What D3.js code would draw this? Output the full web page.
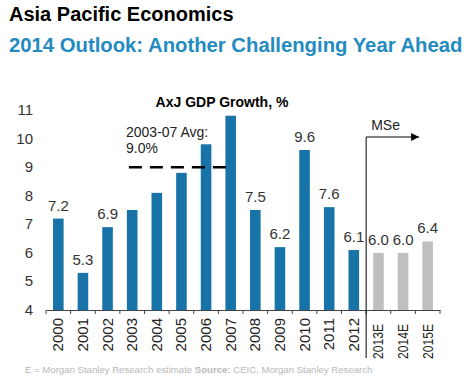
<!DOCTYPE html>
<html><head><meta charset="utf-8">
<script src="https://cdn.jsdelivr.net/npm/d3@7"></script>
<style>body{margin:0;background:#fff}svg{display:block;font-family:"Liberation Sans",Arial,sans-serif}</style>
</head><body>
<svg id="c" width="467" height="379"></svg>
<script>
const categories = ["2000","2001","2002","2003","2004","2005","2006","2007","2008","2009","2010","2011","2012","2013E","2014E","2015E"];
const values = [7.2,5.3,6.9,7.5,8.1,8.8,9.8,10.8,7.5,6.2,9.6,7.6,6.1,6.0,6.0,6.4];
const showLabel = [true,true,true,false,false,false,false,false,true,true,true,true,true,true,true,true];
const estimate = [false,false,false,false,false,false,false,false,false,false,false,false,false,true,true,true];
const yTicks = [4,5,6,7,8,9,10,11];
const avgValue = 9.0;
const avgRange = ["2003","2007"];

const svg = d3.select("#c");
const x = d3.scaleBand().domain(categories).range([46,440]).paddingInner(0.57).paddingOuter(0.285);
const xb = d3.scaleBand().domain(categories).range([46,440]);
const y = d3.scaleLinear().domain([4,11]).range([310,110]);

// titles
svg.append("text").attr("x",9).attr("y",21).attr("font-size",20).attr("font-weight","bold").attr("fill","#000").text("Asia Pacific Economics");
svg.append("text").attr("x",9).attr("y",52).attr("font-size",20.3).attr("font-weight","bold").attr("fill","#238bc0").text("2014 Outlook: Another Challenging Year Ahead");

// chart title
svg.append("text").attr("x",222).attr("y",107).attr("text-anchor","middle").attr("font-size",14).attr("font-weight","bold").text("AxJ GDP Growth, %");

// bars
svg.selectAll("rect.bar").data(categories).join("rect")
  .attr("x",d=>x(d)).attr("width",x.bandwidth())
  .attr("y",(d,i)=>y(values[i])).attr("height",(d,i)=>y(4)-y(values[i]))
  .attr("fill",(d,i)=>estimate[i]?"#bfbfbf":"#1874a8");

// value labels
svg.selectAll("text.val").data(categories).join("text")
  .filter((d,i)=>showLabel[i])
  .attr("x",d=>xb(d)+xb.bandwidth()/2).attr("y",d=>y(values[categories.indexOf(d)])-8)
  .attr("text-anchor","middle").attr("font-size",15).attr("fill","#333")
  .text(d=>values[categories.indexOf(d)].toFixed(1));

// y axis labels
svg.selectAll("text.yt").data(yTicks).join("text")
  .attr("x",33).attr("y",d=>y(d)+5).attr("text-anchor","end").attr("font-size",15).attr("fill","#333").text(d=>d);

// x axis
const xAxis = d3.axisBottom(xb).tickSize(0).tickFormat("");
const gx = svg.append("g").attr("transform","translate(0,310)").call(xAxis);
gx.select(".domain").attr("stroke","#444").attr("stroke-width",1.2);
svg.selectAll("line.tk").data(categories.concat(["end"])).join("line")
  .attr("x1",(d,i)=>46+i*xb.bandwidth()).attr("x2",(d,i)=>46+i*xb.bandwidth())
  .attr("y1",310).attr("y2",314).attr("stroke","#444");

// x labels rotated
svg.selectAll("text.xl").data(categories).join("text")
  .attr("transform",(d,i)=>`translate(${xb(d)+xb.bandwidth()/2+5},${estimate[i]?324:318}) rotate(-90)`)
  .attr("text-anchor","end").attr("font-size",15).attr("fill","#222")
  .each(function(d,i){ if(estimate[i]) d3.select(this).attr("textLength",35).attr("lengthAdjust","spacingAndGlyphs"); })
  .text(d=>d);

// average dashed line
svg.append("line").attr("x1",xb(avgRange[0])+9).attr("x2",xb(avgRange[1])+14)
  .attr("y1",y(avgValue)).attr("y2",y(avgValue)).attr("stroke","#000").attr("stroke-width",2.5).attr("stroke-dasharray","13,8");
svg.append("text").attr("x",126).attr("y",137).attr("font-size",14).attr("fill","#222").text("2003-07 Avg:");
svg.append("text").attr("x",126).attr("y",153).attr("font-size",14).attr("fill","#222").text("9.0%");

// MSe divider + arrow
const dx = xb("2013E");
svg.append("defs").append("marker").attr("id","ah").attr("viewBox","0 0 10 10").attr("refX",10).attr("refY",5)
  .attr("markerWidth",8).attr("markerHeight",8).attr("markerUnits","userSpaceOnUse").attr("orient","auto")
  .append("path").attr("d","M0,0L10,5L0,10Z").attr("fill","#000");
svg.append("line").attr("x1",dx).attr("x2",dx).attr("y1",137).attr("y2",358).attr("stroke","#000").attr("stroke-width",1);
svg.append("line").attr("x1",dx).attr("x2",dx+53).attr("y1",137).attr("y2",137).attr("stroke","#000").attr("stroke-width",1).attr("marker-end","url(#ah)");
svg.append("text").attr("x",dx+5).attr("y",130).attr("font-size",14).attr("fill","#222").text("MSe");

// footnote
const fn = svg.append("text").attr("x",25).attr("y",373).attr("font-size",9.6).attr("fill","#b8b8b8");
fn.append("tspan").text("E = Morgan Stanley Research estimate  ");
fn.append("tspan").attr("font-weight","bold").text("Source: ");
fn.append("tspan").text("CEIC, Morgan Stanley Research");
</script>
</body></html>
